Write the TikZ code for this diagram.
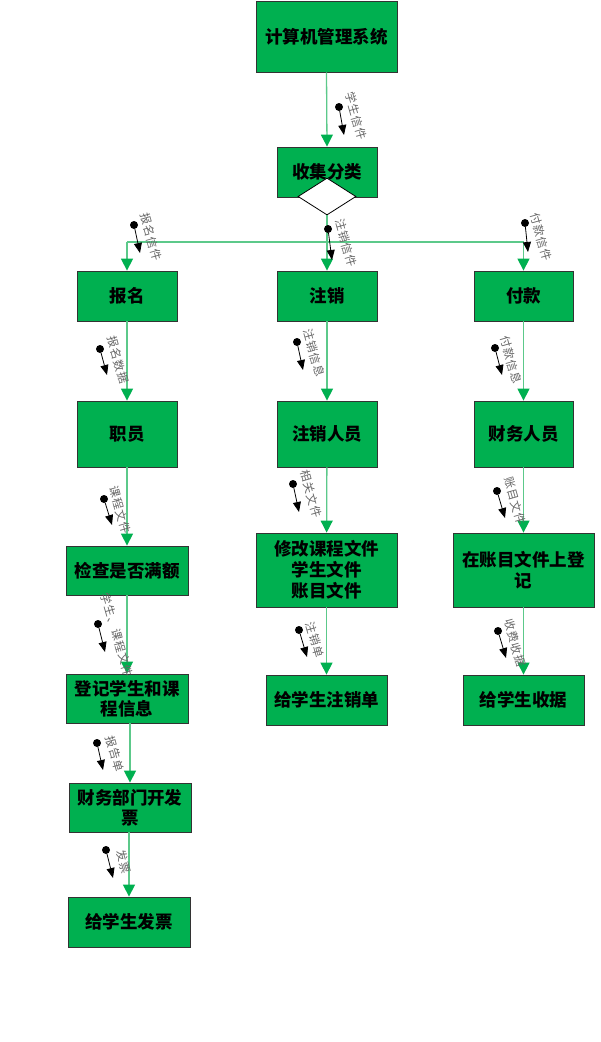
\documentclass[tikz,border=0pt]{standalone}
\usepackage{fontspec}
\newfontfamily\cjk{Noto Sans CJK SC}
\newfontfamily\cjklbl{Noto Sans CJK SC}[LetterSpace=8]
\usetikzlibrary{arrows.meta,shapes.geometric}
\definecolor{boxgreen}{HTML}{00B050}
\definecolor{linegreen}{HTML}{5CC98A}
\begin{document}
\begin{tikzpicture}[x=1pt,y=-1pt,
  box/.style={draw=black!80, line width=0.8pt, fill=boxgreen, inner sep=1pt,
    align=center, font=\cjk\bfseries\fontsize{17.5}{21}\selectfont, text=black},
  conn/.style={draw=linegreen, line width=1.3pt,
    -{Triangle[width=12pt,length=12pt,color=boxgreen]}},
  plain/.style={draw=linegreen, line width=1.3pt},
  dot/.style={circle, fill=black, inner sep=0pt, minimum size=8pt},
  darrow/.style={draw=black, line width=0.8pt, -{Triangle[width=8pt,length=10pt]}},
  lbl/.style={font=\cjklbl\fontsize{11.5}{12}\selectfont, text=black!60, rotate=-74, inner sep=0pt}]
\useasboundingbox (0,0) rectangle (601,1042);

% boxes
\node[box, minimum width=141pt, minimum height=71pt] (b1) at (326.5,36.5) {计算机管理系统};
\node[box, minimum width=100pt, minimum height=50pt] (b2) at (327,172) {收集分类};
\node[diamond, draw=black, fill=white, line width=0.8pt, inner sep=0pt,
      minimum width=58pt, minimum height=37pt] (d) at (327,196.5) {};

\node[box, minimum width=100pt, minimum height=50pt] (bm) at (127,296) {报名};
\node[box, minimum width=100pt, minimum height=50pt] (zx) at (327,296) {注销};
\node[box, minimum width=99pt, minimum height=50pt] (fk) at (523.5,296) {付款};

\node[box, minimum width=100pt, minimum height=66pt] (zy) at (127,434) {职员};
\node[box, minimum width=100pt, minimum height=66pt] (zr) at (327,434) {注销人员};
\node[box, minimum width=99pt, minimum height=66pt] (cw) at (523.5,434) {财务人员};

\node[box, minimum width=122pt, minimum height=49pt] (jc) at (127,570.5) {检查是否满额};
\node[box, minimum width=141pt, minimum height=74pt] (xg) at (326.5,570) {修改课程文件\\学生文件\\账目文件};
\node[box, minimum width=141pt, minimum height=74pt] (zm) at (523.5,570) {在账目文件上登\\记};

\node[box, minimum width=122pt, minimum height=49pt, font=\cjk\bfseries\fontsize{17.5}{20}\selectfont] (dj) at (127,698.5) {登记学生和课\\程信息};
\node[box, minimum width=121pt, minimum height=50pt] (zxd) at (326.5,700) {给学生注销单};
\node[box, minimum width=121pt, minimum height=50pt] (sj) at (523.5,700) {给学生收据};

\node[box, minimum width=122pt, minimum height=49pt, font=\cjk\bfseries\fontsize{17.5}{20}\selectfont] (cwb) at (130,807.5) {财务部门开发\\票};
\node[box, minimum width=122pt, minimum height=50pt] (fp) at (129,922) {给学生发票};

% connectors
\draw[conn] (b1.south) -- (b2.north);
\coordinate (hl) at (127,242);
\coordinate (hr) at (523.5,242);
\draw[plain] (hl) -- (hr);
\draw[conn] (d.south) -- (zx.north);
\draw[conn] (hl) -- (bm.north);
\draw[conn] (hr) -- (fk.north);

\draw[conn] (bm) -- (zy);
\draw[conn] (zx) -- (zr);
\draw[conn] (fk) -- (cw);
\draw[conn] (zy) -- (jc);
\draw[conn] (zr) -- (xg);
\draw[conn] (cw) -- (zm);
\draw[conn] (jc) -- (dj);
\draw[conn] (xg) -- (zxd);
\draw[conn] (zm) -- (sj);
\draw[conn] (cwb.north |- dj.south) -- (cwb.north);
\draw[conn] (fp.north |- cwb.south) -- (fp.north);

% label arrows
\foreach \n/\sx/\sy/\ex/\ey in {
  1/339/107/344/135, 2/328/229/332/260, 3/134/225/140/253, 4/525/223/528/252,
  5/100/349/107/375, 6/297/342/303/370, 7/495/348/502/375,
  8/104/499/112/525, 9/293/484/299/512, 10/497/491/505/518,
  11/98/624/105/652, 12/299/630/307/657, 13/498/631/506/658,
  14/97/743/103/770, 15/106/850/113/878}{
  \node[dot] (k\n) at (\sx,\sy) {};
  \coordinate (ke\n) at (\ex,\ey);
  \draw[darrow] (k\n) -- (ke\n);
}

% labels
\node[lbl] (l1) at (356,116) {学生信件};
\node[lbl] (l2) at (346,243) {注销信件};
\node[lbl] (l3) at (151,237) {报名信件};
\node[lbl] (l4) at (541,237) {付款信件};
\node[lbl] (l5) at (118,360) {报名数据};
\node[lbl] (l6) at (314,353) {注销信息};
\node[lbl] (l7) at (511,360) {付款信息};
\node[lbl] (l8) at (120,510) {课程文件};
\node[lbl] (l9) at (311,494) {相关文件};
\node[lbl] (l10) at (515,501) {账目文件};
\node[lbl] (l11) at (117,635) {学生、课程文件};
\node[lbl] (l12) at (315,640) {注销单};
\node[lbl] (l13) at (515,643) {收费收据};
\node[lbl] (l14) at (115,754) {报告单};
\node[lbl] (l15) at (124,862) {发票};
\end{tikzpicture}
\end{document}
